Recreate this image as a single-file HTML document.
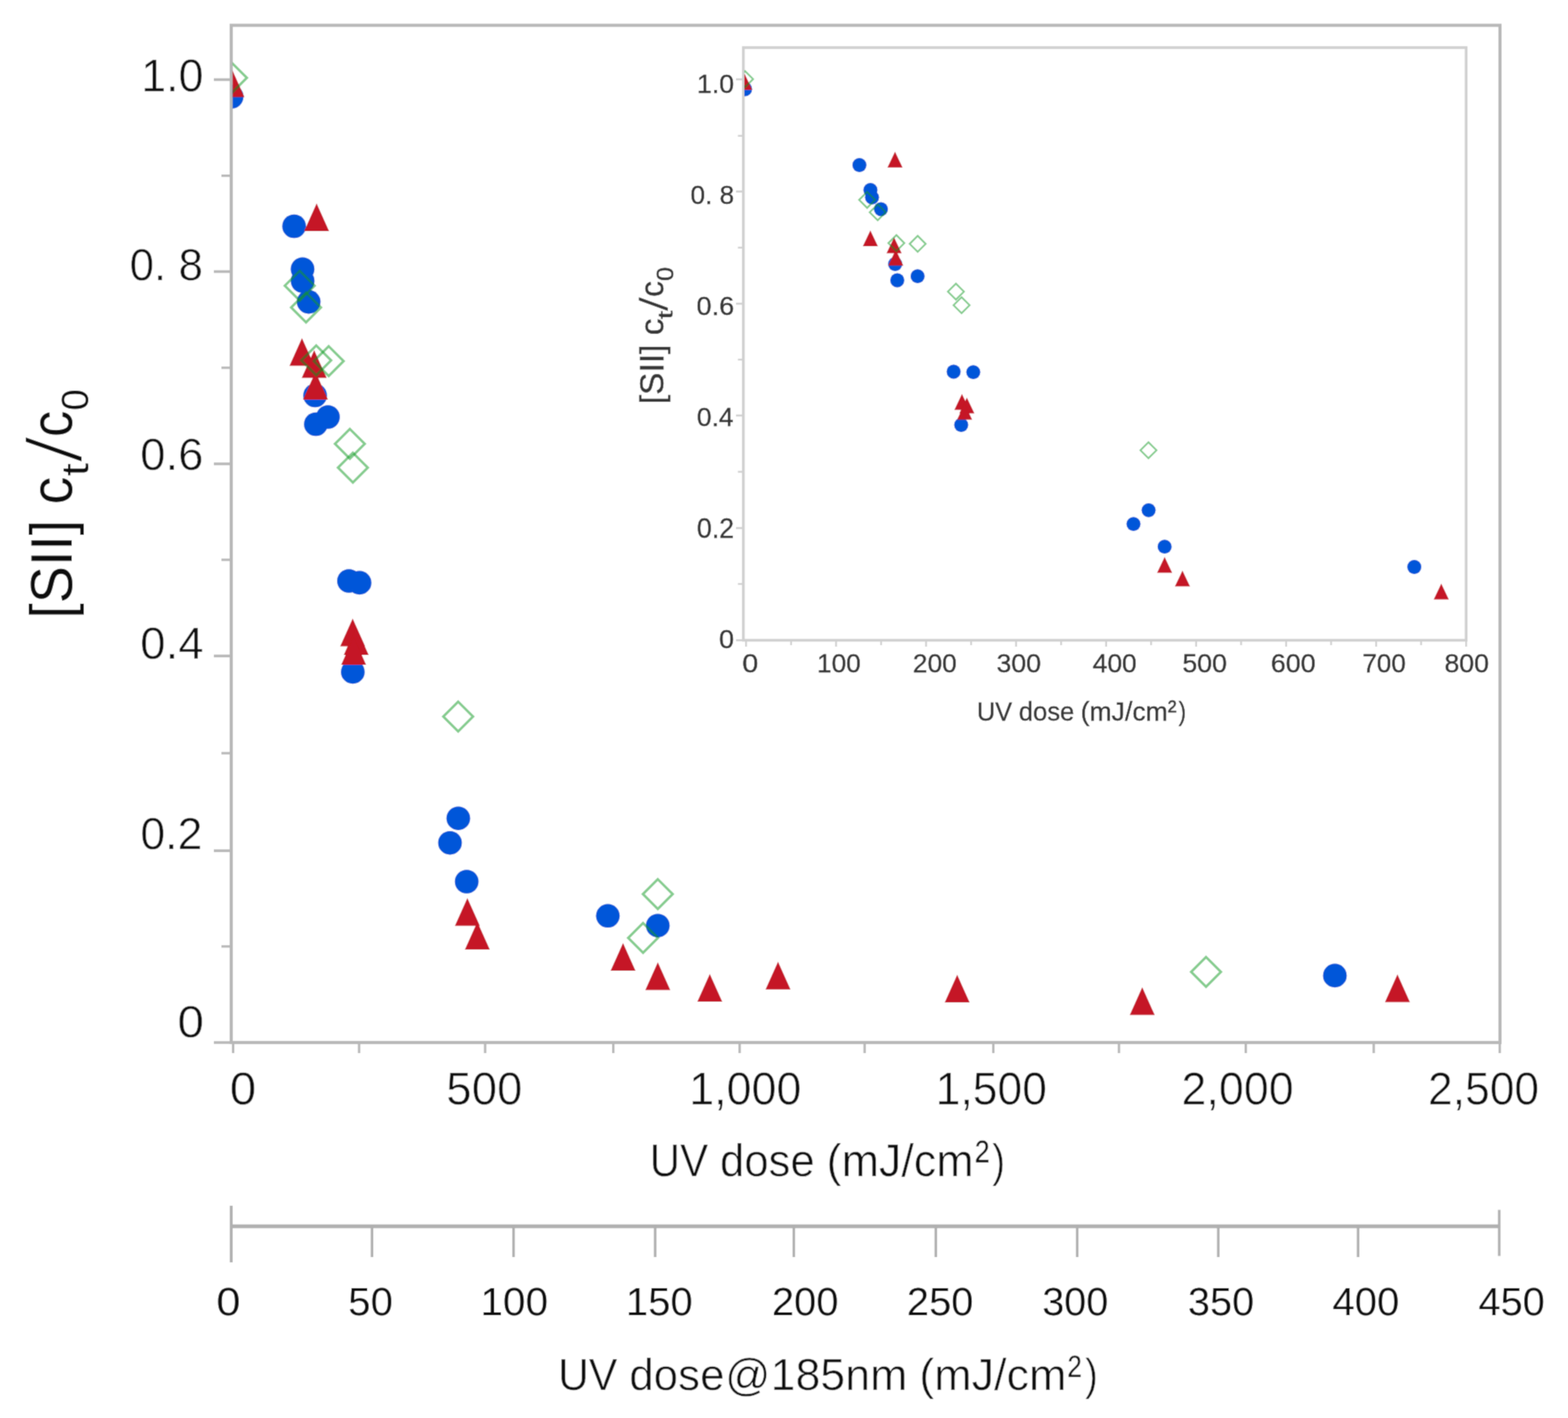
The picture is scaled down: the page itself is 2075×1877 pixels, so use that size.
<!DOCTYPE html>
<html><head><meta charset="utf-8"><title>UV dose chart</title>
<style>
html,body{margin:0;padding:0;background:#fff;}
body{width:2075px;height:1877px;overflow:hidden;}
svg{display:block;font-family:"Liberation Sans",Arial,sans-serif;font-kerning:none;}
text{font-kerning:none;stroke:#fff;stroke-width:0.5px;}
text.it{stroke:none;}
text.ib{stroke:#353535;stroke-width:0.45px;}
</style></head><body>
<svg width="2075" height="1877" viewBox="0 0 2075 1877">
<defs>
<clipPath id="cm"><rect x="307.8" y="35" width="1675.5" height="1343.5"/></clipPath>
<clipPath id="ci"><rect x="985" y="64.5" width="953.7" height="781.5"/></clipPath>
<filter id="soft" x="0" y="0" width="2075" height="1877" filterUnits="userSpaceOnUse"><feConvolveMatrix order="3" kernelMatrix="0.02768 0.11101 0.02768 0.11101 0.44521 0.11101 0.02768 0.11101 0.02768" edgeMode="duplicate" preserveAlpha="true"/></filter>
</defs>
<g filter="url(#soft)">
<rect width="2075" height="1877" fill="#fff"/>
<rect x="306" y="33.5" width="1679" height="1346.5" fill="none" stroke="#b8b8b8" stroke-width="4.2"/>
<line x1="283" y1="105.4" x2="306" y2="105.4" stroke="#b8b8b8" stroke-width="3.6"/>
<line x1="283" y1="359.5" x2="306" y2="359.5" stroke="#b8b8b8" stroke-width="3.6"/>
<line x1="283" y1="614.0" x2="306" y2="614.0" stroke="#b8b8b8" stroke-width="3.6"/>
<line x1="283" y1="868.3" x2="306" y2="868.3" stroke="#b8b8b8" stroke-width="3.6"/>
<line x1="283" y1="1126.1" x2="306" y2="1126.1" stroke="#b8b8b8" stroke-width="3.6"/>
<line x1="283" y1="1380.0" x2="306" y2="1380.0" stroke="#b8b8b8" stroke-width="3.6"/>
<line x1="293" y1="232.6" x2="306" y2="232.6" stroke="#b8b8b8" stroke-width="3.2"/>
<line x1="293" y1="486.8" x2="306" y2="486.8" stroke="#b8b8b8" stroke-width="3.2"/>
<line x1="293" y1="741.0" x2="306" y2="741.0" stroke="#b8b8b8" stroke-width="3.2"/>
<line x1="293" y1="997.0" x2="306" y2="997.0" stroke="#b8b8b8" stroke-width="3.2"/>
<line x1="293" y1="1252.8" x2="306" y2="1252.8" stroke="#b8b8b8" stroke-width="3.2"/>
<line x1="308.5" y1="1380" x2="308.5" y2="1394" stroke="#b8b8b8" stroke-width="3.2"/>
<line x1="475.2" y1="1380" x2="475.2" y2="1394" stroke="#b8b8b8" stroke-width="3.2"/>
<line x1="642.0" y1="1380" x2="642.0" y2="1394" stroke="#b8b8b8" stroke-width="3.2"/>
<line x1="811.6" y1="1380" x2="811.6" y2="1394" stroke="#b8b8b8" stroke-width="3.2"/>
<line x1="978.8" y1="1380" x2="978.8" y2="1394" stroke="#b8b8b8" stroke-width="3.2"/>
<line x1="1144.2" y1="1380" x2="1144.2" y2="1394" stroke="#b8b8b8" stroke-width="3.2"/>
<line x1="1314.5" y1="1380" x2="1314.5" y2="1394" stroke="#b8b8b8" stroke-width="3.2"/>
<line x1="1480.8" y1="1380" x2="1480.8" y2="1394" stroke="#b8b8b8" stroke-width="3.2"/>
<line x1="1648.6" y1="1380" x2="1648.6" y2="1394" stroke="#b8b8b8" stroke-width="3.2"/>
<line x1="1817.9" y1="1380" x2="1817.9" y2="1394" stroke="#b8b8b8" stroke-width="3.2"/>
<line x1="1984.7" y1="1380" x2="1984.7" y2="1394" stroke="#b8b8b8" stroke-width="3.2"/>
<text transform="translate(186.72,121.06) scale(0.9848,1)" font-size="60.45" fill="#111">1.0</text>
<text transform="translate(171.48,370.87) scale(0.9814,1)" font-size="59.32" fill="#111">0. 8</text>
<text transform="translate(185.60,622.07) scale(1.0174,1)" font-size="59.18" fill="#111">0.6</text>
<text transform="translate(185.59,871.97) scale(1.0177,1)" font-size="59.32" fill="#111">0.4</text>
<text transform="translate(185.64,1123.67) scale(0.9885,1)" font-size="59.89" fill="#111">0.2</text>
<text transform="translate(234.67,1373.46) scale(1.0559,1)" font-size="60.03" fill="#111">0</text>
<text transform="translate(304.03,1462.10) scale(1.0357,1)" font-size="61.00" fill="#111">0</text>
<text transform="translate(590.58,1462.10) scale(0.9892,1)" font-size="61.00" fill="#111">500</text>
<text transform="translate(911.98,1462.10) scale(0.9738,1)" font-size="61.00" fill="#111">1,000</text>
<text transform="translate(1238.22,1462.10) scale(0.9648,1)" font-size="61.00" fill="#111">1,500</text>
<text transform="translate(1563.52,1462.10) scale(0.9722,1)" font-size="61.00" fill="#111">2,000</text>
<text transform="translate(1889.74,1462.10) scale(0.9633,1)" font-size="61.00" fill="#111">2,500</text>
<text transform="translate(859.75,1557.30) scale(0.9230,1)" font-size="60.40" fill="#111">UV</text>
<text transform="translate(952.72,1557.30) scale(0.9582,1)" font-size="60.40" fill="#111">dose</text>
<text transform="translate(1093.87,1557.30) scale(0.9832,1)" font-size="60.40" fill="#111">(mJ/cm</text>
<text transform="translate(1289.89,1558.91) scale(0.8262,1)" font-size="70.41" fill="#111">²</text>
<text transform="translate(1312.94,1557.30) scale(0.8500,1)" font-size="60.40" fill="#111">)</text>
<line x1="306" y1="1623.3" x2="1984" y2="1623.3" stroke="#b0b0b0" stroke-width="5"/>
<line x1="306" y1="1596" x2="306" y2="1671" stroke="#b0b0b0" stroke-width="3.8"/>
<line x1="1984" y1="1601.5" x2="1984" y2="1662.5" stroke="#b0b0b0" stroke-width="3.4"/>
<line x1="492.3" y1="1622" x2="492.3" y2="1664" stroke="#b0b0b0" stroke-width="3.4"/>
<line x1="679.6" y1="1622" x2="679.6" y2="1664" stroke="#b0b0b0" stroke-width="3.4"/>
<line x1="867.0" y1="1622" x2="867.0" y2="1664" stroke="#b0b0b0" stroke-width="3.4"/>
<line x1="1050.5" y1="1622" x2="1050.5" y2="1664" stroke="#b0b0b0" stroke-width="3.4"/>
<line x1="1238.4" y1="1622" x2="1238.4" y2="1664" stroke="#b0b0b0" stroke-width="3.4"/>
<line x1="1425.5" y1="1622" x2="1425.5" y2="1664" stroke="#b0b0b0" stroke-width="3.4"/>
<line x1="1612.2" y1="1622" x2="1612.2" y2="1664" stroke="#b0b0b0" stroke-width="3.4"/>
<line x1="1797.2" y1="1622" x2="1797.2" y2="1664" stroke="#b0b0b0" stroke-width="3.4"/>
<text class="it" transform="translate(286.25,1741.20) scale(1.0958,1)" font-size="52.50" fill="#111">0</text>
<text class="it" transform="translate(460.87,1741.20) scale(1.0121,1)" font-size="52.50" fill="#111">50</text>
<text class="it" transform="translate(635.71,1741.20) scale(1.0240,1)" font-size="52.50" fill="#111">100</text>
<text class="it" transform="translate(828.36,1741.20) scale(1.0093,1)" font-size="52.50" fill="#111">150</text>
<text class="it" transform="translate(1021.44,1741.20) scale(1.0072,1)" font-size="52.50" fill="#111">200</text>
<text class="it" transform="translate(1199.94,1741.20) scale(1.0084,1)" font-size="52.50" fill="#111">250</text>
<text class="it" transform="translate(1379.20,1741.20) scale(0.9995,1)" font-size="52.50" fill="#111">300</text>
<text class="it" transform="translate(1572.10,1741.20) scale(0.9995,1)" font-size="52.50" fill="#111">350</text>
<text class="it" transform="translate(1763.18,1741.20) scale(1.0114,1)" font-size="52.50" fill="#111">400</text>
<text class="it" transform="translate(1956.39,1741.20) scale(1.0043,1)" font-size="52.50" fill="#111">450</text>
<text transform="translate(738.48,1839.60) scale(0.9511,1)" font-size="59.50" fill="#111">UV</text>
<text transform="translate(832.81,1839.60) scale(0.9759,1)" font-size="59.50" fill="#111">dose</text>
<text transform="translate(959.59,1839.60) scale(0.9956,1)" font-size="59.50" fill="#111">@185nm</text>
<text transform="translate(1216.56,1839.60) scale(0.9991,1)" font-size="59.50" fill="#111">(mJ/cm</text>
<text transform="translate(1412.63,1841.91) scale(0.8005,1)" font-size="69.70" fill="#111">²</text>
<text transform="translate(1436.05,1839.60) scale(0.8500,1)" font-size="59.50" fill="#111">)</text>
<text class="it" transform="translate(95.20,818.84) rotate(-90) scale(0.9428,1.0000)" font-size="78.00" fill="#111">[SII] c</text>
<text class="it" transform="translate(116.61,630.23) rotate(-90) scale(1.2301,1.0000)" font-size="49.98" fill="#111">t</text>
<text class="it" transform="translate(107.32,610.56) rotate(-90) skewX(-8.186) scale(0.7500,1)" font-size="100.63" fill="#111">/</text>
<text class="it" transform="translate(95.20,578.56) rotate(-90) scale(0.8921,1.0000)" font-size="78.00" fill="#111">c</text>
<text class="it" transform="translate(117.11,543.60) rotate(-90) scale(1.0222,1.0000)" font-size="50.14" fill="#111">0</text>
<g clip-path="url(#cm)">
<g fill="#0557d9"><circle cx="306.5" cy="128" r="15.8"/><circle cx="389.2" cy="299.5" r="15.8"/><circle cx="400.4" cy="356.2" r="15.8"/><circle cx="400.5" cy="372" r="15.8"/><circle cx="408.5" cy="399.6" r="15.8"/><circle cx="417" cy="523.5" r="15.8"/><circle cx="418" cy="561.5" r="15.8"/><circle cx="434" cy="552" r="15.8"/><circle cx="461.8" cy="769" r="15.8"/><circle cx="475.8" cy="771.4" r="15.8"/><circle cx="466.9" cy="889.4" r="15.8"/><circle cx="606.5" cy="1083.2" r="15.8"/><circle cx="595.5" cy="1115.7" r="15.8"/><circle cx="617.6" cy="1167" r="15.8"/><circle cx="804.4" cy="1212.3" r="15.8"/><circle cx="870.5" cy="1225.2" r="15.8"/><circle cx="1766.5" cy="1291.4" r="15.8"/></g>
<g fill="#c51325"><path d="M290.50,128.50L323.50,128.50L307.00,91.70Z"/><path d="M402.50,306.00L435.50,306.00L419.00,269.20Z"/><path d="M383.10,484.30L416.10,484.30L399.60,447.50Z"/><path d="M399.30,500.20L432.30,500.20L415.80,463.40Z"/><path d="M401.00,529.00L434.00,529.00L417.50,492.20Z"/><path d="M450.20,855.50L483.20,855.50L466.70,818.70Z"/><path d="M454.90,867.00L487.90,867.00L471.40,830.20Z"/><path d="M451.50,880.00L484.50,880.00L468.00,843.20Z"/><path d="M602.00,1225.50L635.00,1225.50L618.50,1188.70Z"/><path d="M615.20,1257.00L648.20,1257.00L631.70,1220.20Z"/><path d="M808.00,1285.10L841.00,1285.10L824.50,1248.30Z"/><path d="M854.00,1310.50L887.00,1310.50L870.50,1273.70Z"/><path d="M922.80,1326.00L955.80,1326.00L939.30,1289.20Z"/><path d="M1013.10,1309.70L1046.10,1309.70L1029.60,1272.90Z"/><path d="M1250.20,1327.10L1283.20,1327.10L1266.70,1290.30Z"/><path d="M1495.10,1343.60L1528.10,1343.60L1511.60,1306.80Z"/><path d="M1832.80,1326.60L1865.80,1326.60L1849.30,1289.80Z"/></g>
<g fill="none" stroke="#0a991e" stroke-opacity="0.5" stroke-width="3.3"><path d="M307.00,83.30L326.70,103.00L307.00,122.70L287.30,103.00Z"/><path d="M396.60,358.50L416.30,378.20L396.60,397.90L376.90,378.20Z"/><path d="M405.00,387.30L424.70,407.00L405.00,426.70L385.30,407.00Z"/><path d="M418.50,457.30L438.20,477.00L418.50,496.70L398.80,477.00Z"/><path d="M435.00,458.30L454.70,478.00L435.00,497.70L415.30,478.00Z"/><path d="M463.00,567.80L482.70,587.50L463.00,607.20L443.30,587.50Z"/><path d="M467.00,599.30L486.70,619.00L467.00,638.70L447.30,619.00Z"/><path d="M606.30,928.80L626.00,948.50L606.30,968.20L586.60,948.50Z"/><path d="M870.50,1163.80L890.20,1183.50L870.50,1203.20L850.80,1183.50Z"/><path d="M851.00,1221.80L870.70,1241.50L851.00,1261.20L831.30,1241.50Z"/><path d="M1596.00,1266.80L1615.70,1286.50L1596.00,1306.20L1576.30,1286.50Z"/></g>
</g>
<rect x="983.7" y="63" width="956.5" height="784.5" fill="#fff" stroke="#d0d0d0" stroke-width="3.6"/>
<line x1="974" y1="105.0" x2="984" y2="105.0" stroke="#d0d0d0" stroke-width="2.6"/>
<line x1="974" y1="253.5" x2="984" y2="253.5" stroke="#d0d0d0" stroke-width="2.6"/>
<line x1="974" y1="402.0" x2="984" y2="402.0" stroke="#d0d0d0" stroke-width="2.6"/>
<line x1="974" y1="550.0" x2="984" y2="550.0" stroke="#d0d0d0" stroke-width="2.6"/>
<line x1="974" y1="699.0" x2="984" y2="699.0" stroke="#d0d0d0" stroke-width="2.6"/>
<line x1="974" y1="847.5" x2="984" y2="847.5" stroke="#d0d0d0" stroke-width="2.6"/>
<line x1="976.5" y1="179.8" x2="984" y2="179.8" stroke="#d0d0d0" stroke-width="2.4"/>
<line x1="976.5" y1="327.8" x2="984" y2="327.8" stroke="#d0d0d0" stroke-width="2.4"/>
<line x1="976.5" y1="476.0" x2="984" y2="476.0" stroke="#d0d0d0" stroke-width="2.4"/>
<line x1="976.5" y1="624.5" x2="984" y2="624.5" stroke="#d0d0d0" stroke-width="2.4"/>
<line x1="976.5" y1="773.0" x2="984" y2="773.0" stroke="#d0d0d0" stroke-width="2.4"/>
<line x1="987.3" y1="847.5" x2="987.3" y2="856" stroke="#d0d0d0" stroke-width="2.4"/>
<line x1="1046.9" y1="847.5" x2="1046.9" y2="854" stroke="#d0d0d0" stroke-width="2.4"/>
<line x1="1106.4" y1="847.5" x2="1106.4" y2="856" stroke="#d0d0d0" stroke-width="2.4"/>
<line x1="1166.0" y1="847.5" x2="1166.0" y2="854" stroke="#d0d0d0" stroke-width="2.4"/>
<line x1="1225.5" y1="847.5" x2="1225.5" y2="856" stroke="#d0d0d0" stroke-width="2.4"/>
<line x1="1285.1" y1="847.5" x2="1285.1" y2="854" stroke="#d0d0d0" stroke-width="2.4"/>
<line x1="1344.6" y1="847.5" x2="1344.6" y2="856" stroke="#d0d0d0" stroke-width="2.4"/>
<line x1="1404.2" y1="847.5" x2="1404.2" y2="854" stroke="#d0d0d0" stroke-width="2.4"/>
<line x1="1463.8" y1="847.5" x2="1463.8" y2="856" stroke="#d0d0d0" stroke-width="2.4"/>
<line x1="1523.3" y1="847.5" x2="1523.3" y2="854" stroke="#d0d0d0" stroke-width="2.4"/>
<line x1="1582.9" y1="847.5" x2="1582.9" y2="856" stroke="#d0d0d0" stroke-width="2.4"/>
<line x1="1642.4" y1="847.5" x2="1642.4" y2="854" stroke="#d0d0d0" stroke-width="2.4"/>
<line x1="1702.0" y1="847.5" x2="1702.0" y2="856" stroke="#d0d0d0" stroke-width="2.4"/>
<line x1="1761.5" y1="847.5" x2="1761.5" y2="854" stroke="#d0d0d0" stroke-width="2.4"/>
<line x1="1821.1" y1="847.5" x2="1821.1" y2="856" stroke="#d0d0d0" stroke-width="2.4"/>
<line x1="1880.6" y1="847.5" x2="1880.6" y2="854" stroke="#d0d0d0" stroke-width="2.4"/>
<line x1="1940.2" y1="847.5" x2="1940.2" y2="856" stroke="#d0d0d0" stroke-width="2.4"/>
<text class="ib" transform="translate(922.36,123.10) scale(0.9900,1)" font-size="35.73" fill="#353535">1.0</text>
<text class="ib" transform="translate(913.79,270.30) scale(0.9708,1)" font-size="35.73" fill="#353535">0. 8</text>
<text class="ib" transform="translate(921.85,416.71) scale(1.0159,1)" font-size="35.17" fill="#353535">0.6</text>
<text class="ib" transform="translate(922.29,564.11) scale(0.9896,1)" font-size="35.17" fill="#353535">0.4</text>
<text class="ib" transform="translate(922.27,711.89) scale(0.9593,1)" font-size="36.86" fill="#353535">0.2</text>
<text class="ib" transform="translate(951.55,857.70) scale(1.0090,1)" font-size="35.45" fill="#353535">0</text>
<text class="ib" transform="translate(982.16,889.81) scale(1.1093,1)" font-size="34.32" fill="#353535">0</text>
<text class="ib" transform="translate(1081.21,889.81) scale(1.0111,1)" font-size="34.32" fill="#353535">100</text>
<text class="ib" transform="translate(1208.10,889.81) scale(1.0111,1)" font-size="34.32" fill="#353535">200</text>
<text class="ib" transform="translate(1318.70,889.81) scale(1.0308,1)" font-size="34.32" fill="#353535">300</text>
<text class="ib" transform="translate(1445.95,889.81) scale(1.0193,1)" font-size="34.32" fill="#353535">400</text>
<text class="ib" transform="translate(1564.63,889.81) scale(1.0303,1)" font-size="34.32" fill="#353535">500</text>
<text class="ib" transform="translate(1681.75,889.81) scale(1.0354,1)" font-size="34.32" fill="#353535">600</text>
<text class="ib" transform="translate(1802.88,889.81) scale(1.0044,1)" font-size="34.32" fill="#353535">700</text>
<text class="ib" transform="translate(1911.41,889.81) scale(1.0325,1)" font-size="34.32" fill="#353535">800</text>
<text class="ib" transform="translate(1292.72,953.60) scale(0.9625,1)" font-size="34.80" fill="#353535">UV</text>
<text class="ib" transform="translate(1348.18,953.60) scale(0.9744,1)" font-size="34.80" fill="#353535">dose</text>
<text class="ib" transform="translate(1430.02,953.60) scale(1.0111,1)" font-size="34.80" fill="#353535">(mJ/cm</text>
<text class="ib" transform="translate(1545.29,953.14) scale(0.9502,1)" font-size="37.24" fill="#353535">²</text>
<text class="ib" transform="translate(1559.81,953.60) scale(0.8500,1)" font-size="34.80" fill="#353535">)</text>
<text class="ib" transform="translate(878.20,534.96) rotate(-90) scale(0.9950,1.0000)" font-size="44.60" fill="#353535">[SII] c</text>
<text class="ib" transform="translate(889.88,422.51) rotate(-90) scale(1.4265,1.0000)" font-size="28.27" fill="#353535">t</text>
<text class="ib" transform="translate(883.20,411.25) rotate(-90) skewX(-6.132) scale(0.9500,1)" font-size="51.34" fill="#353535">/</text>
<text class="ib" transform="translate(878.20,392.88) rotate(-90) scale(0.9413,1.0000)" font-size="44.60" fill="#353535">c</text>
<text class="ib" transform="translate(890.69,371.91) rotate(-90) scale(1.0579,1.0000)" font-size="31.64" fill="#353535">0</text>
<g clip-path="url(#ci)">
<g fill="#0557d9"><circle cx="986" cy="118" r="9.4"/><circle cx="1137.3" cy="218.5" r="9.4"/><circle cx="1151.9" cy="251.4" r="9.4"/><circle cx="1154" cy="261.3" r="9.4"/><circle cx="1165.8" cy="276.8" r="9.4"/><circle cx="1184.6" cy="349.5" r="9.4"/><circle cx="1187.4" cy="371" r="9.4"/><circle cx="1214.3" cy="365.7" r="9.4"/><circle cx="1262" cy="492" r="9.4"/><circle cx="1288" cy="492.6" r="9.4"/><circle cx="1272" cy="562.5" r="9.4"/><circle cx="1500" cy="693.6" r="9.4"/><circle cx="1520" cy="675.3" r="9.4"/><circle cx="1541.2" cy="723.7" r="9.4"/><circle cx="1871.6" cy="750.5" r="9.4"/></g>
<g fill="#c51325"><path d="M975.50,119.00L995.50,119.00L985.50,98.00Z"/><path d="M1174.40,221.80L1194.40,221.80L1184.40,200.80Z"/><path d="M1141.80,326.00L1161.80,326.00L1151.80,305.00Z"/><path d="M1173.20,335.30L1193.20,335.30L1183.20,314.30Z"/><path d="M1175.40,351.60L1195.40,351.60L1185.40,330.60Z"/><path d="M1263.00,542.40L1283.00,542.40L1273.00,521.40Z"/><path d="M1269.50,547.20L1289.50,547.20L1279.50,526.20Z"/><path d="M1266.50,555.60L1286.50,555.60L1276.50,534.60Z"/><path d="M1531.20,758.20L1551.20,758.20L1541.20,737.20Z"/><path d="M1554.80,776.30L1574.80,776.30L1564.80,755.30Z"/><path d="M1897.30,793.50L1917.30,793.50L1907.30,772.50Z"/></g>
<g fill="none" stroke="#0a991e" stroke-opacity="0.5" stroke-width="2.4"><path d="M986.00,94.10L996.60,104.70L986.00,115.30L975.40,104.70Z"/><path d="M1147.50,254.00L1158.10,264.60L1147.50,275.20L1136.90,264.60Z"/><path d="M1161.50,270.40L1172.10,281.00L1161.50,291.60L1150.90,281.00Z"/><path d="M1186.20,311.20L1196.80,321.80L1186.20,332.40L1175.60,321.80Z"/><path d="M1214.40,312.20L1225.00,322.80L1214.40,333.40L1203.80,322.80Z"/><path d="M1265.00,375.40L1275.60,386.00L1265.00,396.60L1254.40,386.00Z"/><path d="M1272.50,393.40L1283.10,404.00L1272.50,414.60L1261.90,404.00Z"/><path d="M1519.80,585.40L1530.40,596.00L1519.80,606.60L1509.20,596.00Z"/></g>
</g>
</g>
</svg>
</body></html>
